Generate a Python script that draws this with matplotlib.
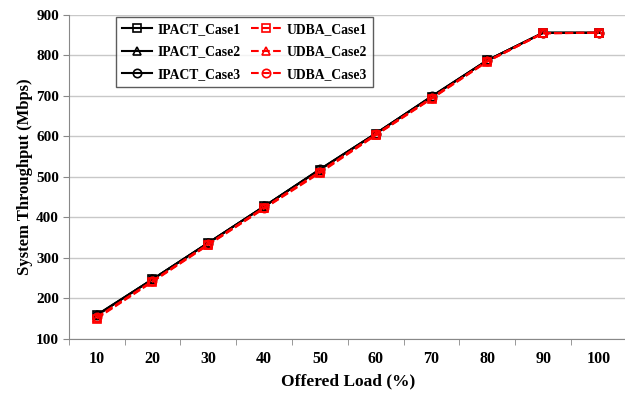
import matplotlib.pyplot as plt

loads = [10, 20, 30, 40, 50, 60, 70, 80, 90, 100]
ipact_case1 = [158, 247, 337, 427, 518, 607, 698, 788, 856, 856]
ipact_case2 = [158, 247, 337, 427, 518, 607, 698, 788, 856, 856]
ipact_case3 = [159, 247, 337, 427, 519, 607, 699, 788, 856, 856]
udba_case1 = [150, 241, 332, 422, 510, 603, 693, 785, 855, 856]
udba_case2 = [152, 242, 333, 423, 512, 604, 694, 786, 855, 856]
udba_case3 = [153, 243, 334, 424, 513, 605, 695, 786, 855, 856]

plt.rcParams['font.family'] = ['Liberation Serif', 'DejaVu Serif']
plt.rcParams['font.weight'] = 'bold'

fig = plt.figure(figsize=(6.25, 3.94), dpi=100)
ax = fig.add_axes([0.110, 0.140, 0.893, 0.822])

pos = list(range(1, len(loads) + 1))
series = [
    (ipact_case1, 'IPACT_Case1', 'k', '-', 's'),
    (ipact_case2, 'IPACT_Case2', 'k', '-', '^'),
    (ipact_case3, 'IPACT_Case3', 'k', '-', 'o'),
    (udba_case1, 'UDBA_Case1', 'red', '--', 's'),
    (udba_case2, 'UDBA_Case2', 'red', '--', '^'),
    (udba_case3, 'UDBA_Case3', 'red', '--', 'o'),
]
for vals, lab, col, ls, mk in series:
    ax.plot(pos, vals, color=col, linestyle=ls, linewidth=1.5, marker=mk,
            markersize=6, markerfacecolor='none', markeredgecolor=col,
            markeredgewidth=1.2, label=lab)

ax.set_xlim(0.5, len(loads) + 0.5)
ax.set_ylim(100, 900)
ax.set_yticks(range(100, 901, 100))
ax.set_xticks(pos)
ax.set_xticklabels([str(v) for v in loads])
ax.set_xticks([p + 0.5 for p in range(0, len(loads) + 1)], minor=True)
ax.tick_params(axis='x', which='major', length=0, pad=9, labelsize=11.5)
ax.tick_params(axis='x', which='minor', length=4, color='#888888')
ax.tick_params(axis='y', length=4, color='#888888', labelsize=11, pad=3)
ax.grid(axis='y', color='#c8c8c8', linewidth=1.0)
ax.set_axisbelow(True)
for s in ['top', 'right']:
    ax.spines[s].set_visible(False)
for s in ['left', 'bottom']:
    ax.spines[s].set_color('#888888')

ax.set_xlabel('Offered Load (%)', fontsize=12.5, fontweight='bold', labelpad=4)
ax.set_ylabel('System Throughput (Mbps)', fontsize=12, fontweight='bold', labelpad=2)

leg = ax.legend(ncol=2, loc='upper left', bbox_to_anchor=(0.084, 0.994),
                fontsize=9.8, frameon=True, fancybox=False, edgecolor='#333333',
                handlelength=2.2, columnspacing=0.8, labelspacing=0.7,
                borderpad=0.45, handletextpad=0.4, borderaxespad=0)
leg.get_frame().set_linewidth(1.0)

fig.savefig('out.png', dpi=100)
